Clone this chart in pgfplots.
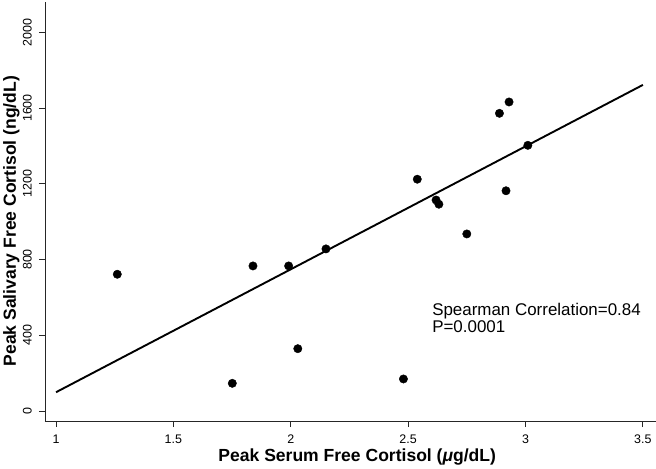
\documentclass[border=0pt]{standalone}
\usepackage{fontspec}
\setmainfont{Liberation Sans}
\usepackage{pgfplots}
\pgfplotsset{compat=1.18}
\begin{document}
\begin{tikzpicture}
\begin{axis}[
  scale only axis,
  width=611bp, height=419bp,
  xmin=0.953, xmax=3.556,
  ymin=-53, ymax=2160,
  axis lines=left,
  axis line style={-, line width=0.9bp, black!85},
  tick style={line width=0.9bp, black!85},
  major tick length=6bp,
  tick align=outside,
  xtick={1,1.5,2,2.5,3,3.5},
  ytick={0,400,800,1200,1600,2000},
  scaled ticks=false,
  /pgf/number format/1000 sep={},
  /pgf/number format/assume math mode=true,
  every tick label/.append style={font=\fontsize{12.5}{14}\selectfont},
  xticklabel style={font=\fontsize{12.5}{14}\selectfont, anchor=base, yshift=-16.3bp},
  yticklabel style={font=\fontsize{12.5}{14}\selectfont, xshift=-7.3bp, rotate=90, anchor=base},
  xlabel={Peak Serum Free Cortisol (\textit{μ}g/dL)},
  ylabel={Peak Salivary Free Cortisol (ng/dL)},
  xlabel style={at={([yshift=-40.5bp]axis description cs:0.511,0)}, anchor=base, font=\bfseries\fontsize{17.6}{20}\selectfont},
  ylabel style={at={([xshift=-33.5bp]axis description cs:0,0.477)}, anchor=center, font=\bfseries\fontsize{17.6}{20}\selectfont},
]
\addplot[only marks, mark=*, mark size=4.2bp, black] coordinates {
(1.261,722) (1.839,766) (1.991,766) (2.150,856) (2.030,329)
(1.751,146) (2.539,1224) (2.619,1114) (2.631,1092) (2.750,935)
(2.917,1163) (2.889,1572) (2.930,1632) (3.010,1403) (2.480,169)
};
\addplot[black, line width=1.9bp] coordinates {(1,99) (3.5,1722)};
\node[anchor=base west, inner sep=0pt, font=\fontsize{17}{17}\selectfont] at (axis cs:2.602,503) {Spearman Correlation=0.84};
\node[anchor=base west, inner sep=0pt, font=\fontsize{17}{17}\selectfont] at (axis cs:2.602,416) {P=0.0001};
\coordinate (ll) at (rel axis cs:0,0);
\end{axis}
\pgfresetboundingbox
\path (ll) ++(-45bp,-48bp) rectangle ++(656bp,469bp);
\end{tikzpicture}
\end{document}
